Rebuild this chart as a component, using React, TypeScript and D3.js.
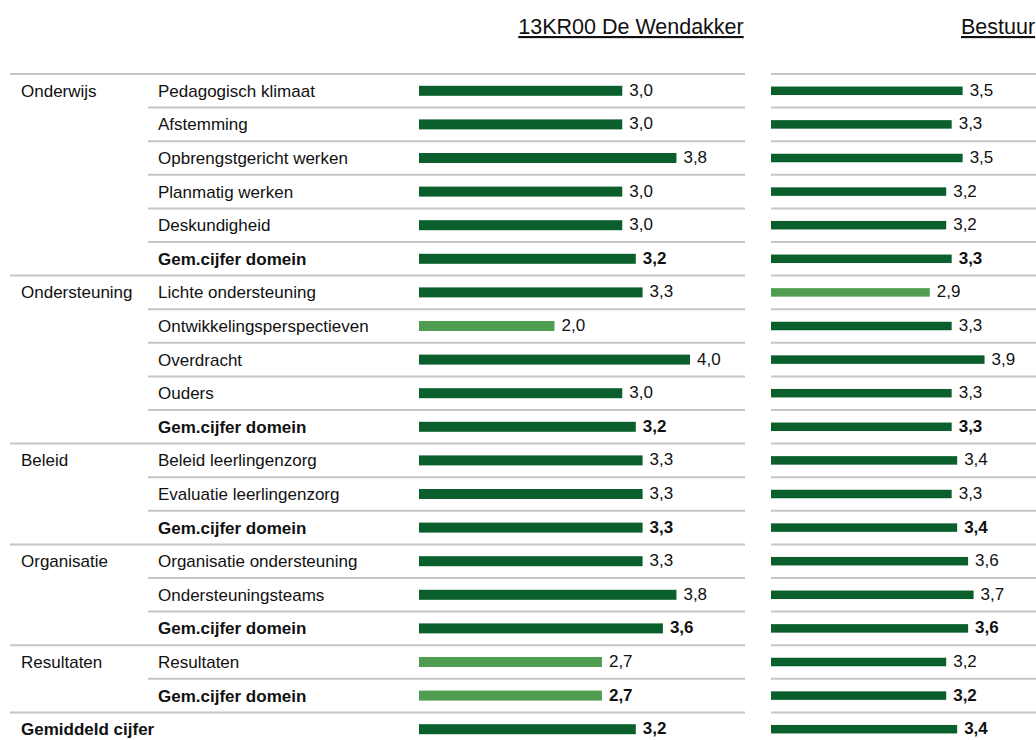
import { useEffect, useRef } from 'react';
import * as d3 from 'd3';

// one entry per row, group name only on the first row of a group
const rowGroups = [
  'Onderwijs', '', '', '', '', '',
  'Ondersteuning', '', '', '', '',
  'Beleid', '', '',
  'Organisatie', '', '',
  'Resultaten', '',
  'Gemiddeld cijfer',
];

const rowLabels = [
  'Pedagogisch klimaat', 'Afstemming', 'Opbrengstgericht werken', 'Planmatig werken', 'Deskundigheid', 'Gem.cijfer domein',
  'Lichte ondersteuning', 'Ontwikkelingsperspectieven', 'Overdracht', 'Ouders', 'Gem.cijfer domein',
  'Beleid leerlingenzorg', 'Evaluatie leerlingenzorg', 'Gem.cijfer domein',
  'Organisatie ondersteuning', 'Ondersteuningsteams', 'Gem.cijfer domein',
  'Resultaten', 'Gem.cijfer domein',
  '',
];

const schoolValues = [
  3.0, 3.0, 3.8, 3.0, 3.0, 3.2,
  3.3, 2.0, 4.0, 3.0, 3.2,
  3.3, 3.3, 3.3,
  3.3, 3.8, 3.6,
  2.7, 2.7,
  3.2,
];

const bestuurValues = [
  3.5, 3.3, 3.5, 3.2, 3.2, 3.3,
  2.9, 3.3, 3.9, 3.3, 3.3,
  3.4, 3.3, 3.4,
  3.6, 3.7, 3.6,
  3.2, 3.2,
  3.4,
];

const panelTitles = ['13KR00 De Wendakker', 'Bestuur'];

const W = 1036;
const H = 740;
const DARK = '#0b5f2c';
const LIGHT = '#4f9d51';
const GRID = '#c6c6c6';
const FONT = '"Liberation Sans", Arial, sans-serif';

export default function App() {
  const svgRef = useRef<SVGSVGElement>(null);

  useEffect(() => {
    if (!svgRef.current) return;
    const svg = d3.select(svgRef.current);
    svg.selectAll('*').remove();

    const idx = d3.range(rowLabels.length);
    const y = d3.scaleBand<number>().domain(idx).range([74, 74 + 33.6 * idx.length]);
    const cy = (i: number) => (y(i) || 0) + y.bandwidth() / 2;
    const isBold = (i: number) => rowLabels[i].startsWith('Gem') || rowLabels[i] === '';
    const color = (v: number) => (v < 3 ? LIGHT : DARK);

    const xLeft = d3.scaleLinear().domain([0, 4]).range([419, 690]);
    const xRight = d3.scaleLinear().domain([0, 4]).range([771, 990]);

    // titles
    svg.append('text')
      .attr('x', 631).attr('y', 34)
      .attr('text-anchor', 'middle')
      .attr('font-size', 21.5)
      .attr('text-decoration', 'underline')
      .attr('fill', '#111')
      .text(panelTitles[0]);
    svg.append('text')
      .attr('x', 961).attr('y', 34)
      .attr('font-size', 21.5)
      .attr('text-decoration', 'underline')
      .attr('fill', '#111')
      .text(panelTitles[1]);

    // grid lines
    const lines = svg.append('g').attr('stroke', GRID).attr('stroke-width', 2);
    idx.forEach(i => {
      const yy = y(i) || 0;
      lines.append('line')
        .attr('x1', rowGroups[i] ? 10 : 148).attr('x2', 745)
        .attr('y1', yy).attr('y2', yy);
      lines.append('line')
        .attr('x1', 771).attr('x2', W)
        .attr('y1', yy).attr('y2', yy);
    });

    // labels
    const lab = svg.append('g').attr('font-size', 17).attr('fill', '#111');
    idx.forEach(i => {
      if (rowGroups[i]) {
        lab.append('text')
          .attr('x', 21).attr('y', cy(i) + 6)
          .attr('font-weight', i === idx.length - 1 ? 'bold' : 'normal')
          .text(rowGroups[i]);
      }
      if (rowLabels[i]) {
        lab.append('text')
          .attr('x', 158).attr('y', cy(i) + 6)
          .attr('font-weight', isBold(i) ? 'bold' : 'normal')
          .text(rowLabels[i]);
      }
    });

    // bars
    const panels = [
      { values: schoolValues, x: xLeft, h: 10 },
      { values: bestuurValues, x: xRight, h: 8.5 },
    ];
    panels.forEach(p => {
      const g = svg.append('g');
      g.selectAll('rect')
        .data(idx)
        .enter()
        .append('rect')
        .attr('x', p.x(0))
        .attr('y', i => cy(i) - p.h / 2)
        .attr('width', i => p.x(p.values[i]) - p.x(0))
        .attr('height', p.h)
        .attr('fill', i => color(p.values[i]));
      g.selectAll('text')
        .data(idx)
        .enter()
        .append('text')
        .attr('x', i => p.x(p.values[i]) + 7)
        .attr('y', i => cy(i) + 5)
        .attr('font-size', 17)
        .attr('font-weight', i => (isBold(i) ? 'bold' : 'normal'))
        .attr('fill', '#111')
        .text(i => p.values[i].toFixed(1).replace('.', ','));
    });
  }, []);

  return (
    <svg
      ref={svgRef}
      width={W}
      height={H}
      style={{ position: 'absolute', left: 0, top: 0, background: '#fff', fontFamily: FONT }}
    />
  );
}
